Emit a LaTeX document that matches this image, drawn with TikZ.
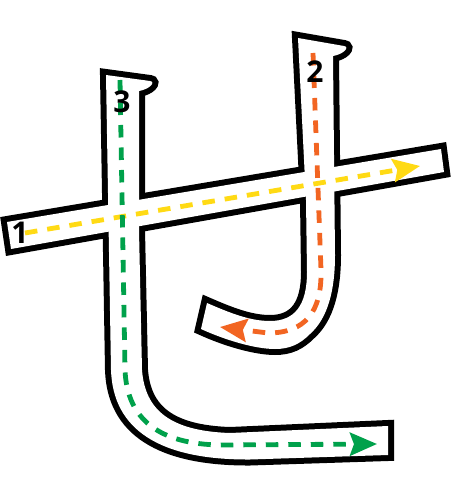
\documentclass[tikz,border=0pt]{standalone}
\usepackage{fontspec}
\setmainfont{Open Sans}
\usetikzlibrary{arrows.meta}
\definecolor{syellow}{RGB}{255,218,20}
\definecolor{sorange}{RGB}{242,101,34}
\definecolor{sgreen}{RGB}{0,161,75}
\begin{document}
\begin{tikzpicture}[x=1pt,y=-1pt,
  border/.style={draw=black, line width=12pt, line join=miter},
  inside/.style={fill=white},
  guide/.style={line width=4.8pt, dash pattern=on 12.5pt off 10pt},
  tip/.style={-{Stealth[length=27pt,width=23pt,inset=4pt]}},
  num/.style={font=\bfseries\fontsize{30}{30}\selectfont, inner sep=0pt}]
\useasboundingbox (0,0) rectangle (450,500);
\def\sOnePath{(7,222) -- (441,149) -- (444,172) -- (11,249) -- cycle}
\def\sTwoPath{(298,38) -- (344,46) .. controls (350,47) and (344,54) .. (333,56) -- (335,255) .. controls (335,290) and (328,318) .. (310,334) .. controls (300,344) and (290,349) .. (275,349) .. controls (255,349) and (225,340) .. (201,329) -- (207,303) .. controls (230,313) and (250,321) .. (270,321) .. controls (295,321) and (307,305) .. (307,272) -- (306,200) -- cycle}
\def\sThreePath{(106,75) -- (150,81) .. controls (156,82) and (150,89) .. (139,91) -- (139,230) -- (142,370) .. controls (145,410) and (170,431) .. (230,433) -- (388,426) -- (388,455) -- (250,459.5) .. controls (160,460) and (113,430) .. (111,370) -- cycle}
% borders
\path[border] \sOnePath;
\path[border] \sTwoPath;
\path[border] \sThreePath;
% interiors
\path[inside] \sOnePath;
\path[inside] \sTwoPath;
\path[inside] \sThreePath;
% stroke guides
\coordinate (y0) at (25,233);
\coordinate (y1) at (420,166);
\draw[guide, syellow, tip] (y0) -- (y1);
\coordinate (o0) at (313,53);
\coordinate (o1) at (220,327);
\draw[guide, sorange, tip] (o0) -- (321,270) .. controls (322,312) and (305,333) .. (268,333) -- (o1);
\coordinate (g0) at (120,80);
\coordinate (g1) at (377,444);
\draw[guide, sgreen, tip] (g0) -- (125,370) .. controls (127,420) and (160,444) .. (220,445) -- (g1);
% numbers
\node[num] (n1) at (20,233) {1};
\node[num] (n2) at (315,72) {2};
\node[num] (n3) at (122,102) {3};
\end{tikzpicture}
\end{document}
